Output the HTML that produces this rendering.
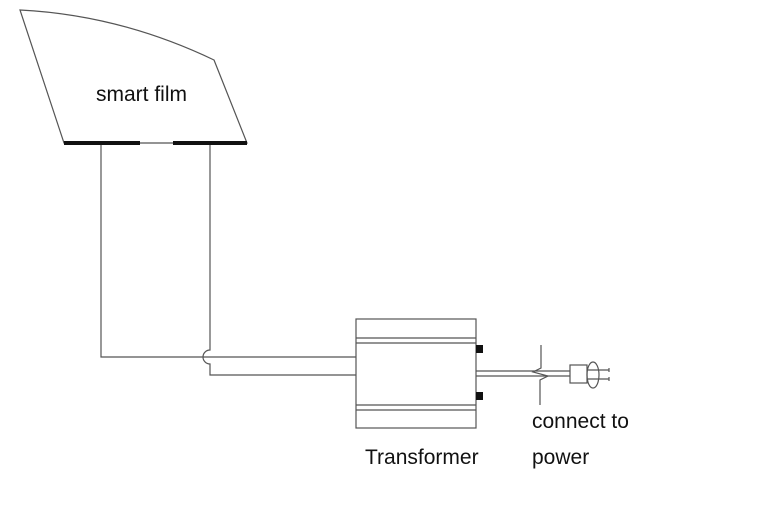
<!DOCTYPE html>
<html><head><style>
body{margin:0;background:#fff;width:766px;height:507px;overflow:hidden}
</style></head><body>
<svg width="766" height="507" viewBox="0 0 766 507" xmlns="http://www.w3.org/2000/svg" font-family="Liberation Sans, sans-serif">
<g fill="none" stroke="#555" stroke-width="1.2">
<path d="M20,10 Q120,15 214,60 L247,143 L64,143 Z"/>
<path d="M101,143 V357 H356"/>
<path d="M210,143 V350 A7,7 0 0 0 210,364 V375 H356"/>
<rect x="356" y="319" width="120" height="109"/>
<line x1="356" y1="338" x2="476" y2="338"/>
<line x1="356" y1="343" x2="476" y2="343"/>
<line x1="356" y1="405" x2="476" y2="405"/>
<line x1="356" y1="410" x2="476" y2="410"/>
<line x1="476" y1="371" x2="570" y2="371"/>
<line x1="476" y1="376" x2="570" y2="376"/>
<path d="M541,345 V368 L533,372 L548,376 L540,380 V405"/>
<rect x="570" y="365" width="17" height="18" fill="#fff"/>
<ellipse cx="593" cy="375" rx="6" ry="13"/>
<path d="M587,370 H609 M587,379 H609"/>
<line x1="609" y1="368" x2="609" y2="372"/><line x1="609" y1="377" x2="609" y2="381"/>
</g>
<g fill="#111">
<rect x="64" y="141" width="76" height="4"/>
<rect x="173" y="141" width="74" height="4"/>
<rect x="476" y="345" width="7" height="8"/>
<rect x="476" y="392" width="7" height="8"/>
</g>
<g font-size="21" fill="#111">
<text x="96" y="101">smart film</text>
<text x="365" y="464">Transformer</text>
<text x="532" y="428">connect to</text>
<text x="532" y="464">power</text>
</g>
</svg>
</body></html>
